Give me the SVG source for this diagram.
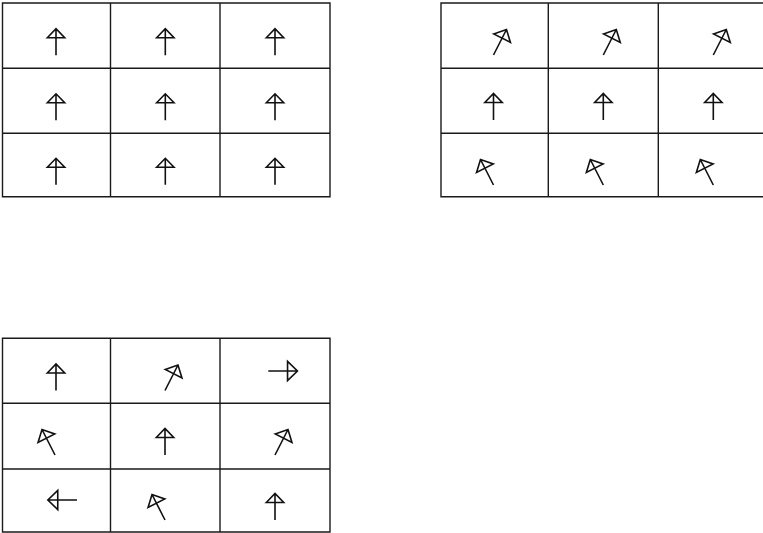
<svg xmlns="http://www.w3.org/2000/svg" xmlns:xlink="http://www.w3.org/1999/xlink" width="763" height="533" viewBox="0 0 763 533">
<style>
.grid{fill:none;stroke:#1a1a1a;stroke-width:1.4}
.arr{fill:none;stroke:#111;stroke-width:1.6;stroke-linejoin:miter;vector-effect:non-scaling-stroke}
</style>
<defs>
<path id="a" class="arr" d="M0,0 V-26.5 M-8.7,-17.5 L0,-26.5 L8.7,-17.5 Z"/>
</defs>
<rect width="763" height="533" fill="#fff"/>
<g id="grid-top-left">
<path class="grid" d="M2.5,3 H330 V196.7 H2.5 Z M110.5,3 V196.7 M220,3 V196.7 M2.5,68.3 H330 M2.5,133.3 H330"/>
<g id="tl-r1c1"><use xlink:href="#a" transform="translate(56,55.2)"/></g>
<g id="tl-r1c2"><use xlink:href="#a" transform="translate(165.3,55.2)"/></g>
<g id="tl-r1c3"><use xlink:href="#a" transform="translate(275,55.2)"/></g>
<g id="tl-r2c1"><use xlink:href="#a" transform="translate(56,120.3)"/></g>
<g id="tl-r2c2"><use xlink:href="#a" transform="translate(165.3,120.3)"/></g>
<g id="tl-r2c3"><use xlink:href="#a" transform="translate(275,120.3)"/></g>
<g id="tl-r3c1"><use xlink:href="#a" transform="translate(56,184.8)"/></g>
<g id="tl-r3c2"><use xlink:href="#a" transform="translate(165.3,184.8)"/></g>
<g id="tl-r3c3"><use xlink:href="#a" transform="translate(275,184.8)"/></g>
</g>
<g id="grid-top-right">
<path class="grid" d="M441,3 H768 V196.7 H441 Z M548.3,3 V196.7 M658.3,3 V196.7 M441,68.3 H768 M441,133.3 H768"/>
<g id="tr-r1c1"><use xlink:href="#a" transform="translate(493.5,55) rotate(27) scale(1.08)"/></g>
<g id="tr-r1c2"><use xlink:href="#a" transform="translate(603.3,55) rotate(27) scale(1.08)"/></g>
<g id="tr-r1c3"><use xlink:href="#a" transform="translate(713.3,55) rotate(27) scale(1.08)"/></g>
<g id="tr-r2c1"><use xlink:href="#a" transform="translate(493.5,120)"/></g>
<g id="tr-r2c2"><use xlink:href="#a" transform="translate(603.3,120)"/></g>
<g id="tr-r2c3"><use xlink:href="#a" transform="translate(713.3,120)"/></g>
<g id="tr-r3c1"><use xlink:href="#a" transform="translate(493.5,185) rotate(-27) scale(1.08)"/></g>
<g id="tr-r3c2"><use xlink:href="#a" transform="translate(603.3,185) rotate(-27) scale(1.08)"/></g>
<g id="tr-r3c3"><use xlink:href="#a" transform="translate(713.3,185) rotate(-27) scale(1.08)"/></g>
</g>
<g id="grid-bottom-left">
<path class="grid" d="M2.5,338.3 H330 V532 H2.5 Z M110.5,338.3 V532 M220,338.3 V532 M2.5,403.3 H330 M2.5,469 H330"/>
<g id="bl-r1c1"><use xlink:href="#a" transform="translate(56,390.5)"/></g>
<g id="bl-r1c2"><use xlink:href="#a" transform="translate(165,390.5) rotate(27) scale(1.08)"/></g>
<g id="bl-r1c3"><use xlink:href="#a" transform="translate(268.3,371) rotate(90) scale(1.1)"/></g>
<g id="bl-r2c1"><use xlink:href="#a" transform="translate(55,455) rotate(-27) scale(1.08)"/></g>
<g id="bl-r2c2"><use xlink:href="#a" transform="translate(165,455)"/></g>
<g id="bl-r2c3"><use xlink:href="#a" transform="translate(275,455) rotate(27) scale(1.08)"/></g>
<g id="bl-r3c1"><use xlink:href="#a" transform="translate(77,500) rotate(-90) scale(1.1)"/></g>
<g id="bl-r3c2"><use xlink:href="#a" transform="translate(165,520) rotate(-27) scale(1.08)"/></g>
<g id="bl-r3c3"><use xlink:href="#a" transform="translate(275,520)"/></g>
</g>
<g id="connectors"/>
</svg>
